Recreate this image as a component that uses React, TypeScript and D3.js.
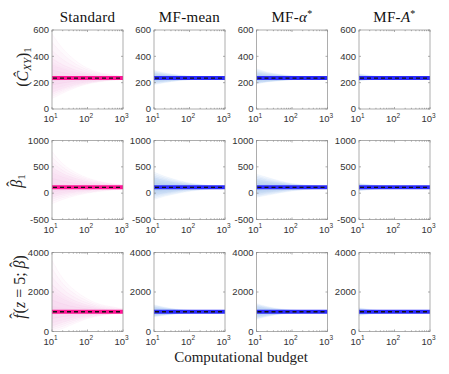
import { useEffect, useRef } from "react";
import * as d3 from "d3";

// Budgets at which the spread of the estimator traces was read off the picture
const budgets = [10, 20, 50, 100, 200, 500, 1000];
const xTicks = [10, 100, 1000];
const methods = ["Standard", "MF-mean", "MF-alpha", "MF-A"];

// Row 1: (C_XY)_1
const covDomain = [0, 600];
const covTicks = [0, 200, 400, 600];
const covMean = 235;
const covOuterHi = [
  [570, 460, 360, 310, 280, 260, 250],
  [295, 275, 258, 250, 245, 241, 239],
  [305, 280, 262, 252, 246, 242, 240],
  [268, 255, 247, 243, 240, 238, 237],
];
const covOuterLo = [
  [80, 120, 165, 190, 205, 218, 225],
  [185, 200, 215, 222, 227, 230, 232],
  [190, 205, 215, 222, 227, 230, 232],
  [215, 222, 227, 230, 232, 233, 233],
];
const covCoreHi = [
  [360, 320, 285, 268, 255, 248, 243],
  [270, 260, 250, 245, 242, 239, 238],
  [275, 262, 252, 246, 243, 240, 238],
  [255, 248, 243, 240, 238, 237, 236],
];
const covCoreLo = [
  [130, 160, 190, 205, 215, 225, 228],
  [205, 212, 222, 226, 229, 231, 232],
  [205, 212, 220, 226, 229, 231, 232],
  [222, 227, 230, 232, 233, 234, 234],
];

// Row 2: beta_1
const betaDomain = [-500, 1000];
const betaTicks = [-500, 0, 500, 1000];
const betaMean = 110;
const betaOuterHi = [
  [790, 560, 380, 290, 230, 180, 160],
  [400, 320, 240, 195, 165, 140, 130],
  [360, 300, 225, 185, 160, 138, 128],
  [185, 160, 140, 130, 123, 118, 115],
];
const betaOuterLo = [
  [-200, -120, -40, 0, 30, 60, 75],
  [-120, -60, 0, 35, 60, 80, 90],
  [-80, -40, 10, 40, 62, 82, 92],
  [45, 65, 85, 95, 100, 104, 106],
];
const betaCoreHi = [
  [450, 350, 260, 210, 180, 150, 140],
  [280, 230, 185, 160, 145, 130, 125],
  [260, 220, 180, 155, 140, 128, 122],
  [160, 145, 130, 123, 118, 115, 113],
];
const betaCoreLo = [
  [-60, -10, 30, 50, 70, 85, 90],
  [-20, 10, 50, 70, 80, 92, 98],
  [-10, 20, 55, 72, 85, 95, 100],
  [65, 80, 92, 100, 104, 106, 108],
];

// Row 3: f(z = 5; beta)
const predDomain = [0, 4000];
const predTicks = [0, 2000, 4000];
const predMean = 1000;
const predOuterHi = [
  [3600, 2700, 2000, 1650, 1400, 1250, 1150],
  [1350, 1230, 1120, 1080, 1050, 1030, 1020],
  [1420, 1260, 1140, 1090, 1055, 1030, 1020],
  [1200, 1120, 1060, 1035, 1020, 1010, 1005],
];
const predOuterLo = [
  [0, 150, 450, 650, 780, 880, 920],
  [750, 820, 900, 940, 960, 980, 985],
  [620, 760, 880, 930, 955, 975, 985],
  [800, 880, 940, 965, 980, 990, 995],
];
const predCoreHi = [
  [2200, 1800, 1450, 1300, 1180, 1100, 1060],
  [1220, 1150, 1080, 1050, 1030, 1020, 1012],
  [1260, 1170, 1090, 1060, 1035, 1020, 1012],
  [1120, 1070, 1035, 1020, 1012, 1006, 1003],
];
const predCoreLo = [
  [300, 500, 700, 800, 870, 930, 960],
  [820, 870, 930, 955, 970, 985, 990],
  [760, 840, 920, 950, 968, 982, 990],
  [880, 930, 965, 980, 988, 994, 997],
];

const rows = [
  { domain: covDomain, ticks: covTicks, mean: covMean, oHi: covOuterHi, oLo: covOuterLo, cHi: covCoreHi, cLo: covCoreLo },
  { domain: betaDomain, ticks: betaTicks, mean: betaMean, oHi: betaOuterHi, oLo: betaOuterLo, cHi: betaCoreHi, cLo: betaCoreLo },
  { domain: predDomain, ticks: predTicks, mean: predMean, oHi: predOuterHi, oLo: predOuterLo, cHi: predCoreHi, cLo: predCoreLo },
];

const W = 449;
const H = 374;
const colLeft = [52, 154, 256.5, 359];
const rowTop = [30, 140.5, 252.5];
const pw = 71;
const ph = 79;

const serif = "'Liberation Serif', 'Times New Roman', serif";
const sans = "'Liberation Sans', Arial, sans-serif";

export default function App() {
  const svgRef = useRef<SVGSVGElement>(null);

  useEffect(() => {
    const svg = d3.select(svgRef.current);
    svg.selectAll("*").remove();

    const minor: number[] = [];
    [10, 100].forEach((d) => {
      for (let k = 2; k <= 9; k++) minor.push(d * k);
    });

    // layers between mean (0), core envelope (1) and outer envelope (2)
    const layers = [2, 1.7, 1.4, 1.15, 1, 0.75, 0.5, 0.25];
    const fans = [1, 0.85, 0.7, 0.55, 0.4, 0.25];

    rows.forEach((row, r) => {
      methods.forEach((m, c) => {
        const x0 = colLeft[c];
        const y0 = rowTop[r];
        const x = d3.scaleLog().domain([10, 1000]).range([x0, x0 + pw]);
        const y = d3.scaleLinear().domain(row.domain).range([y0 + ph, y0]);
        const isStd = c === 0;
        const faint = isStd ? "#e23fb4" : "#3a80da";
        const thick = isStd ? "#ff1496" : "#2a2aff";

        const clipId = `clip-${r}-${c}`;
        svg
          .append("clipPath")
          .attr("id", clipId)
          .append("rect")
          .attr("x", x0)
          .attr("y", y0)
          .attr("width", pw)
          .attr("height", ph);

        const g = svg.append("g").attr("clip-path", `url(#${clipId})`);

        const env = (s: number, hi: boolean) =>
          budgets.map((b, i) => {
            const core = hi ? row.cHi[c][i] : row.cLo[c][i];
            const outer = hi ? row.oHi[c][i] : row.oLo[c][i];
            if (s <= 1) return row.mean + s * (core - row.mean);
            return core + (s - 1) * (outer - core);
          });

        const area = d3
          .area<number>()
          .x((_, i) => x(budgets[i]))
          .curve(d3.curveMonotoneX);

        layers.forEach((s) => {
          const hi = env(s, true);
          const lo = env(s, false);
          g.append("path")
            .attr(
              "d",
              area.y0((_, i) => y(lo[i])).y1((_, i) => y(hi[i]))(budgets)
            )
            .attr("fill", faint)
            .attr("fill-opacity", isStd ? 0.022 : 0.055);
        });

        // faint rays mimicking individual estimator traces
        const line = d3
          .line<number>()
          .x((_, i) => x(budgets[i]))
          .curve(d3.curveMonotoneX);
        fans.forEach((f) => {
          [true, false].forEach((hiSide) => {
            const v = env(2 * f, hiSide);
            g.append("path")
              .attr("d", line.y((_, i) => y(v[i]))(budgets))
              .attr("fill", "none")
              .attr("stroke", faint)
              .attr("stroke-opacity", isStd ? 0.07 : 0.08)
              .attr("stroke-width", 0.5);
          });
        });

        // mean estimate and reference value
        g.append("line")
          .attr("x1", x0)
          .attr("x2", x0 + pw)
          .attr("y1", y(row.mean))
          .attr("y2", y(row.mean))
          .attr("stroke", thick)
          .attr("stroke-width", 4);
        g.append("line")
          .attr("x1", x0 + 1)
          .attr("x2", x0 + pw)
          .attr("y1", y(row.mean))
          .attr("y2", y(row.mean))
          .attr("stroke", "#111")
          .attr("stroke-width", 1.3)
          .attr("stroke-dasharray", "4,3");

        // box and ticks
        const ax = svg.append("g").attr("stroke", "#8a8a8a").attr("stroke-width", 0.7);
        ax.append("rect")
          .attr("x", x0)
          .attr("y", y0)
          .attr("width", pw)
          .attr("height", ph)
          .attr("fill", "none");
        xTicks.forEach((t) => {
          ax.append("line").attr("x1", x(t)).attr("x2", x(t)).attr("y1", y0 + ph).attr("y2", y0 + ph - 2);
          ax.append("line").attr("x1", x(t)).attr("x2", x(t)).attr("y1", y0).attr("y2", y0 + 2);
        });
        minor.forEach((t) => {
          ax.append("line").attr("x1", x(t)).attr("x2", x(t)).attr("y1", y0 + ph).attr("y2", y0 + ph - 1.2);
          ax.append("line").attr("x1", x(t)).attr("x2", x(t)).attr("y1", y0).attr("y2", y0 + 1.2);
        });
        row.ticks.forEach((t) => {
          ax.append("line").attr("x1", x0).attr("x2", x0 + 2).attr("y1", y(t)).attr("y2", y(t));
          ax.append("line").attr("x1", x0 + pw).attr("x2", x0 + pw - 2).attr("y1", y(t)).attr("y2", y(t));
        });

        // tick labels
        row.ticks.forEach((t) => {
          svg
            .append("text")
            .attr("x", x0 - 3)
            .attr("y", y(t) + 3.3)
            .attr("text-anchor", "end")
            .attr("font-family", sans)
            .attr("font-size", 9.5)
            .attr("fill", "#333")
            .text(String(t));
        });
        xTicks.forEach((t, i) => {
          const tx = svg
            .append("text")
            .attr("x", x(t) - 1.5)
            .attr("y", y0 + ph + 13)
            .attr("text-anchor", "middle")
            .attr("font-family", sans)
            .attr("font-size", 9.5)
            .attr("fill", "#333");
          tx.append("tspan").text("10");
          tx.append("tspan")
            .attr("dy", -4.5)
            .attr("font-size", 6.5)
            .text(String(i + 1));
        });

        // column titles
        if (r === 0) {
          const tt = svg
            .append("text")
            .attr("x", x0 + pw / 2)
            .attr("y", 21.5)
            .attr("text-anchor", "middle")
            .attr("font-family", serif)
            .attr("font-size", 15)
            .attr("letter-spacing", 0.3)
            .attr("fill", "#111");
          if (m === "MF-alpha" || m === "MF-A") {
            tt.append("tspan").text("MF-");
            tt.append("tspan")
              .attr("font-style", "italic")
              .text(m === "MF-alpha" ? "α" : "A");
            tt.append("tspan").attr("dy", -5).attr("font-size", 10).text("*");
          } else {
            tt.text(m);
          }
        }
      });
    });

    // y labels (rotated; hats drawn as separate glyphs)
    const yl = (cx: number, cy: number) =>
      svg
        .append("text")
        .attr("transform", `translate(${cx},${cy}) rotate(-90)`)
        .attr("text-anchor", "middle")
        .attr("font-family", serif)
        .attr("font-size", 16)
        .attr("fill", "#222");

    const l1 = yl(28, 67);
    l1.append("tspan").text("(");
    l1.append("tspan").attr("font-style", "italic").text("Ĉ");
    l1.append("tspan").attr("font-style", "italic").attr("font-size", 11).attr("dy", 3).text("XY");
    l1.append("tspan").attr("dy", -3).text(")");
    l1.append("tspan").attr("font-size", 11).attr("dy", 3).text("1");

    const l2 = yl(22, 181);
    l2.append("tspan").attr("font-style", "italic").text("β");
    l2.append("tspan").attr("dx", -7).attr("dy", -4).text("ˆ");
    l2.append("tspan").attr("dx", 1.5).attr("dy", 7).attr("font-size", 11).text("1");

    const l3 = yl(25, 287);
    l3.append("tspan").attr("font-style", "italic").text("f");
    l3.append("tspan").attr("dx", -4.5).attr("dy", -4).text("ˆ");
    l3.append("tspan").attr("dx", 0).attr("dy", 4).text("(");
    l3.append("tspan").attr("font-style", "italic").text("z");
    l3.append("tspan").text(" = 5; ");
    l3.append("tspan").attr("font-style", "italic").text("β");
    l3.append("tspan").attr("dx", -7).attr("dy", -4).text("ˆ");
    l3.append("tspan").attr("dx", 1.5).attr("dy", 4).text(")");

    svg
      .append("text")
      .attr("x", 241)
      .attr("y", 362)
      .attr("text-anchor", "middle")
      .attr("font-family", serif)
      .attr("font-size", 15)
      .attr("fill", "#222")
      .text("Computational budget");
  }, []);

  return (
    <svg
      ref={svgRef}
      width={W}
      height={H}
      style={{ position: "absolute", left: 0, top: 0, background: "#fff" }}
    />
  );
}
